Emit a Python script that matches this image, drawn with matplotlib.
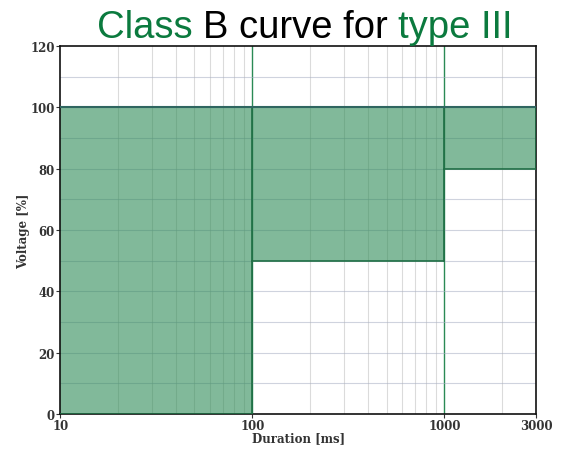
import numpy as np
import matplotlib.pyplot as plt
from matplotlib.ticker import FixedLocator, NullFormatter

# voltage tolerance bands (duration edges in ms, lower voltage limit in %)
dur_edges = [10, 100, 1000, 3000]
v_low = [0, 50, 80]
v_high = 100

xticks = [10, 100, 1000, 3000]
yticks = [0, 20, 40, 60, 80, 100, 120]

fig = plt.figure(figsize=(5.63, 4.52), dpi=100)
ax = fig.add_axes([0.107, 0.082, 0.845, 0.814])

ax.set_xscale('log')
ax.set_xlim(10, 3000)
ax.set_ylim(0, 120)

# grid: grey minor decades, green decade lines, bluish horizontal lines every 10 %
minor_x = [m * d for d in (10, 100, 1000) for m in range(2, 10) if m * d < 3000]
for xv in minor_x:
    ax.axvline(xv, color='#c4c4c4', lw=0.8, alpha=0.6, zorder=1)
for xv in (100, 1000):
    ax.axvline(xv, color='#2a8a55', lw=1.0, zorder=1)
for yv in range(10, 120, 10):
    ax.axhline(yv, color='#a8b0c4', lw=0.8, alpha=0.55, zorder=1)

for i in range(len(v_low)):
    x0, x1 = dur_edges[i], dur_edges[i + 1]
    ax.fill_between([x0, x1], v_low[i], v_high, color='#2e8b57', alpha=0.6,
                    lw=0, zorder=2)
    ax.plot([x0, x1], [v_low[i], v_low[i]], color='#1f6e45', lw=1.2, zorder=3)
    ax.plot([x1, x1], [v_low[i], v_high], color='#1f6e45', lw=1.2, zorder=3)
ax.plot([dur_edges[0], dur_edges[-1]], [v_high, v_high], color='#2f6660', lw=1.5, zorder=3)

ax.xaxis.set_major_locator(FixedLocator(xticks))
ax.xaxis.set_minor_formatter(NullFormatter())
ax.set_xticks([], minor=True)
ax.set_xticklabels([str(t) for t in xticks])
ax.set_yticks(yticks)

for lab in ax.get_xticklabels() + ax.get_yticklabels():
    lab.set_fontfamily('DejaVu Serif')
    lab.set_fontsize(8.5)
    lab.set_fontweight('bold')
ax.tick_params(axis='both', length=3, width=0.8, pad=1, colors='#333333')

ax.set_xlabel('Duration [ms]', family='DejaVu Serif', size=8.5, weight='bold',
              labelpad=-1, color='#333333')
ax.set_ylabel('Voltage [%]', family='DejaVu Serif', size=8.5, weight='bold',
              labelpad=0, color='#333333')

for sp in ax.spines.values():
    sp.set_linewidth(1.2)
    sp.set_color('#111111')

# two-colour title
title_parts = [('Class ', '#0b7a3e'), ('B curve for ', '#000000'), ('type III', '#0b7a3e')]
fig.canvas.draw()
renderer = fig.canvas.get_renderer()
xpos = 0.172
for txt, col in title_parts:
    tt = fig.text(xpos, 0.915, txt, fontsize=27.5, family='Liberation Sans', color=col)
    bb = tt.get_window_extent(renderer)
    xpos += bb.width / fig.bbox.width

fig.savefig('out.png', dpi=100)
